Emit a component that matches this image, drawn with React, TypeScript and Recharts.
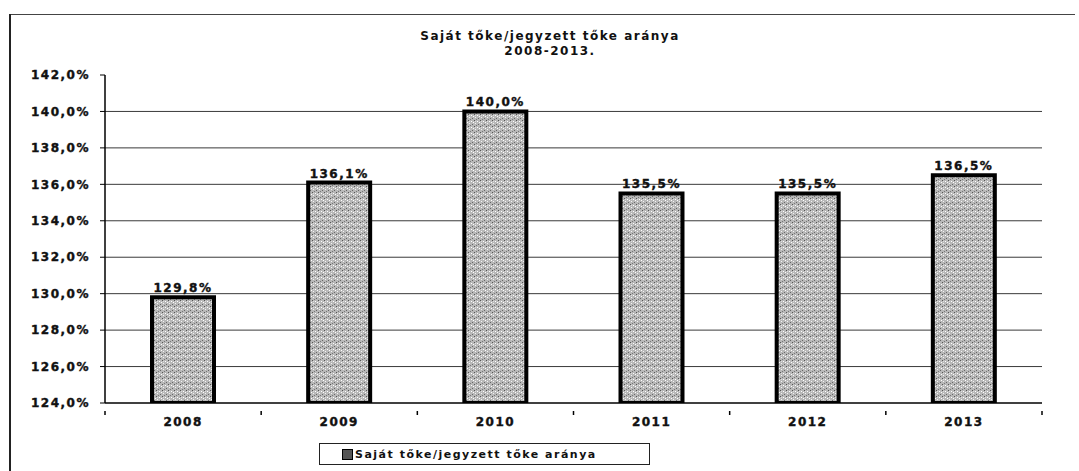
import { BarChart, Bar, XAxis, YAxis, CartesianGrid, LabelList } from 'recharts'

const years = ['2008', '2009', '2010', '2011', '2012', '2013']
const ratios = [129.8, 136.1, 140.0, 135.5, 135.5, 136.5]
const yTicks = [124, 126, 128, 130, 132, 134, 136, 138, 140, 142]
const gridValues = [126, 128, 130, 132, 134, 136, 138, 140]
const seriesName = 'Saját tőke/jegyzett tőke aránya'
const titleLines = ['Saját tőke/jegyzett tőke aránya', '2008-2013.']

const data = years.map((year, i) => ({ year, ratio: ratios[i] }))

const font = '"DejaVu Sans", Verdana, sans-serif'
const fmt = (v: number) => `${v.toFixed(1).replace('.', ',')}%`

const CHART_W = 1079
const CHART_H = 471
const LEFT = 105
const RIGHT = 1042
const band = (RIGHT - LEFT) / years.length

// Excel style: ticks sit on category boundaries, not centres
const XTick = (props: any) => {
  const { x, y, payload, index } = props
  const left = x - band / 2
  return (
    <g>
      <line x1={left} y1={y} x2={left} y2={y + 4} stroke="#000" strokeWidth={1.5} />
      {index === years.length - 1 && (
        <line x1={x + band / 2} y1={y} x2={x + band / 2} y2={y + 4} stroke="#000" strokeWidth={1.5} />
      )}
      <text x={x} y={y + 15} textAnchor="middle" fontFamily={font} fontWeight="bold" fontSize={12} letterSpacing={1.5} fill="#111" stroke="#111" strokeWidth={0.4}>
        {payload.value}
      </text>
    </g>
  )
}

const LegendBox = () => (
  <div
    style={{
      position: 'absolute',
      left: 319,
      top: 443,
      width: 331,
      height: 22,
      border: '1.5px solid #222',
      display: 'flex',
      alignItems: 'center',
      boxSizing: 'border-box',
      paddingLeft: 22,
      fontFamily: font,
      fontWeight: 'bold',
      fontSize: 11,
      letterSpacing: 1.5,
      color: '#111',
      background: '#fff',
    }}
  >
    <span style={{ display: 'inline-block', width: 9, height: 9, background: '#555', border: '1px solid #000', marginRight: 2 }} />
    {seriesName}
  </div>
)

const textStyle = { fontFamily: font, fontWeight: 'bold', fontSize: 12, letterSpacing: 1.5, fill: '#111', stroke: '#111', strokeWidth: 0.4 }

export default function App() {
  return (
    <div style={{ position: 'absolute', left: 0, top: 0, width: CHART_W, height: CHART_H, background: '#fff' }}>
      {/* scanned frame */}
      <div style={{ position: 'absolute', left: 10, top: 14, width: 1065, height: 0, borderTop: '1.5px solid #444' }} />
      <div style={{ position: 'absolute', left: 9, top: 14, width: 2, height: 457, background: '#222' }} />

      <div
        style={{
          position: 'absolute',
          left: 0,
          top: 29,
          width: 1100,
          textAlign: 'center',
          fontFamily: font,
          fontWeight: 'bold',
          fontSize: 12,
          letterSpacing: 1.5,
          lineHeight: '15px',
          color: '#111',
        }}
      >
        {titleLines.map((t) => (
          <div key={t}>{t}</div>
        ))}
      </div>

      <BarChart
        width={CHART_W}
        height={CHART_H}
        data={data}
        margin={{ top: 75, right: CHART_W - RIGHT, bottom: 0, left: 0 }}
        barSize={62}
      >
        <defs>
          <pattern id="stipple" width="6" height="6" patternUnits="userSpaceOnUse">
            <rect width="6" height="6" fill="#b8b8b8" />
            <rect x="0" y="0" width="1" height="1" fill="#555" />
            <rect x="3" y="1" width="1" height="1" fill="#fff" />
            <rect x="4" y="4" width="1" height="1" fill="#666" />
            <rect x="1" y="3" width="1" height="1" fill="#f4f4f4" />
            <rect x="2" y="5" width="1" height="1" fill="#777" />
            <rect x="5" y="2" width="1" height="1" fill="#fff" />
            <rect x="1" y="1" width="1" height="1" fill="#ddd" />
          </pattern>
        </defs>
        <CartesianGrid vertical={false} horizontalValues={gridValues} stroke="#3a3a3a" strokeWidth={1} />
        <XAxis
          dataKey="year"
          height={68}
          axisLine={{ stroke: '#000', strokeWidth: 1.5 }}
          tickLine={false}
          tick={<XTick />}
          interval={0}
        />
        <YAxis
          width={LEFT}
          domain={[124, 142]}
          ticks={yTicks}
          allowDataOverflow
          tickFormatter={fmt}
          axisLine={{ stroke: '#000', strokeWidth: 1.5 }}
          tickLine={{ stroke: '#000' }}
          tickSize={5}
          tickMargin={10}
          tick={textStyle}
        />
        <Bar dataKey="ratio" name={seriesName} fill="url(#stipple)" stroke="#000" strokeWidth={4} isAnimationActive={false}>
          <LabelList
            dataKey="ratio"
            position="top"
            offset={5}
            formatter={(v: any) => fmt(Number(v))}
            style={textStyle}
          />
        </Bar>
      </BarChart>
      <LegendBox />
    </div>
  )
}
